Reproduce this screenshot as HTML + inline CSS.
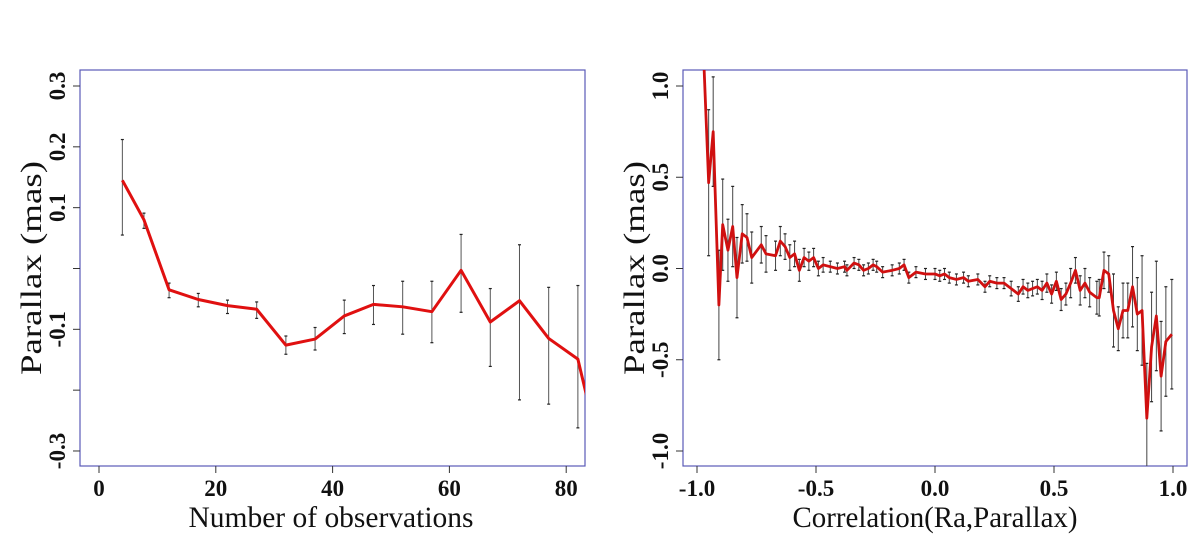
<!DOCTYPE html>
<html><head><meta charset="utf-8"><style>
html,body{margin:0;padding:0;background:#fff;}
svg{display:block;}
text{font-family:"Liberation Serif",serif;}
.tk{font-weight:bold;font-size:23px;fill:#111;}
.tt{font-size:30px;fill:#111;}
</style></head><body>
<svg id="chart" width="1200" height="549" viewBox="0 0 1200 549"></svg>
<script>
// Left panel data
const obsX = [4, 7.7, 12, 17, 22, 27, 32, 37, 42, 47, 52, 57, 62, 67, 72, 77, 82];
const obsY = [0.145, 0.08, -0.035, -0.051, -0.061, -0.067, -0.126, -0.116, -0.078, -0.059, -0.063, -0.071, -0.003, -0.088, -0.053, -0.115, -0.149];
const obsHi = [0.212, 0.091, -0.024, -0.041, -0.052, -0.055, -0.111, -0.097, -0.052, -0.028, -0.021, -0.021, 0.056, -0.033, 0.039, -0.031, -0.028];
const obsLo = [0.055, 0.066, -0.048, -0.063, -0.074, -0.082, -0.141, -0.134, -0.107, -0.092, -0.108, -0.122, -0.072, -0.161, -0.216, -0.223, -0.262];
const obsTailX = 84, obsTailY = -0.23;
const leftXTicks = [0, 20, 40, 60, 80];
const leftYTicks = [0.3, 0.2, 0.1, 0, -0.1, -0.2, -0.3];
const leftYLabels = ["0.3", "0.2", "0.1", "", "-0.1", "", "-0.3"];
// Right panel data
const corX = [-0.97,-0.951,-0.932,-0.908,-0.892,-0.87,-0.85,-0.832,-0.81,-0.79,-0.77,-0.73,-0.71,-0.67,-0.65,-0.63,-0.61,-0.59,-0.57,-0.55,-0.53,-0.51,-0.49,-0.47,-0.44,-0.41,-0.38,-0.37,-0.34,-0.32,-0.30,-0.28,-0.26,-0.245,-0.22,-0.18,-0.15,-0.13,-0.11,-0.08,-0.04,0.0,0.02,0.04,0.06,0.09,0.12,0.14,0.18,0.21,0.23,0.26,0.29,0.32,0.35,0.37,0.39,0.41,0.43,0.45,0.47,0.49,0.51,0.53,0.55,0.57,0.59,0.61,0.63,0.65,0.68,0.69,0.71,0.73,0.75,0.77,0.79,0.81,0.83,0.85,0.87,0.89,0.91,0.93,0.95,0.97,0.995];
const corY = [1.09,0.47,0.75,-0.20,0.24,0.10,0.23,-0.05,0.19,0.17,0.06,0.13,0.08,0.07,0.15,0.12,0.06,0.08,-0.01,0.06,0.04,0.06,0.00,0.02,0.01,0.00,0.01,-0.01,0.03,0.02,-0.01,0.00,0.02,0.01,-0.02,-0.01,0.00,0.02,-0.05,-0.02,-0.03,-0.03,-0.04,-0.03,-0.05,-0.06,-0.05,-0.07,-0.06,-0.10,-0.07,-0.08,-0.08,-0.11,-0.14,-0.10,-0.12,-0.11,-0.10,-0.12,-0.08,-0.14,-0.07,-0.17,-0.14,-0.08,-0.01,-0.12,-0.08,-0.13,-0.16,-0.16,-0.01,-0.03,-0.23,-0.33,-0.23,-0.23,-0.10,-0.25,-0.23,-0.82,-0.43,-0.26,-0.59,-0.40,-0.36];
const corErr = [0,0.4,0.3,0.3,0.25,0.17,0.22,0.22,0.16,0.13,0.14,0.1,0.1,0.08,0.08,0.07,0.07,0.07,0.06,0.05,0.05,0.05,0.04,0.04,0.03,0.03,0.03,0.03,0.03,0.03,0.03,0.03,0.03,0.03,0.03,0.03,0.03,0.03,0.03,0.03,0.03,0.03,0.03,0.03,0.03,0.03,0.03,0.03,0.03,0.03,0.03,0.03,0.03,0.04,0.04,0.04,0.04,0.04,0.04,0.05,0.05,0.05,0.05,0.06,0.06,0.08,0.07,0.08,0.08,0.08,0.09,0.1,0.1,0.1,0.2,0.12,0.15,0.15,0.22,0.2,0.3,0.3,0.3,0.3,0.3,0.3,0.3];
const rightXTicks = [-1, -0.5, 0, 0.5, 1];
const rightXLabels = ["-1.0", "-0.5", "0.0", "0.5", "1.0"];
const rightYTicks = [1, 0.5, 0, -0.5, -1];
const rightYLabels = ["1.0", "0.5", "0.0", "-0.5", "-1.0"];

const NS = "http://www.w3.org/2000/svg";
const svg = document.getElementById("chart");
function mk(tag, attrs, parent){
  const e = document.createElementNS(NS, tag);
  for (const k in attrs) e.setAttribute(k, attrs[k]);
  (parent||svg).appendChild(e);
  return e;
}
function errBar(parent, X, y1, y2, color){
  const e = mk("line", {x1: X, x2: X, y1: y1, y2: y2, stroke: color, "stroke-width": 1}, parent);
  
  
  mk("line", {x1: X - 1.5, x2: X + 1.5, y1: y1, y2: y1, stroke: "#222", "stroke-width": 1.2}, parent);
  mk("line", {x1: X - 1.5, x2: X + 1.5, y1: y2, y2: y2, stroke: "#222", "stroke-width": 1.2}, parent);
}
function panel(cfg){
  const g = mk("g", {});
  
  
  const clipId = cfg.name + "-clip";
  const cp = mk("clipPath", {id: clipId}, g);
  mk("rect", {x: cfg.bx0, y: cfg.by0, width: cfg.bx1 - cfg.bx0, height: cfg.by1 - cfg.by0}, cp);
  const frame = mk("rect", {x: cfg.bx0, y: cfg.by0, width: cfg.bx1 - cfg.bx0, height: cfg.by1 - cfg.by0, fill: "none", stroke: "#5a5ab8", "stroke-width": 1.2}, g);
  
  
  cfg.xt.forEach((v, i) => {
    const x = cfg.sx(v);
    mk("line", {x1: x, x2: x, y1: cfg.by1, y2: cfg.by1 + 7, stroke: "#333", "stroke-width": 1}, g);
    const t = mk("text", {x: x, y: cfg.by1 + 30, "text-anchor": "middle", class: "tk"}, g);
    t.textContent = cfg.xl[i];
    
    
  });
  cfg.yt.forEach((v, i) => {
    const y = cfg.sy(v);
    mk("line", {x1: cfg.bx0, x2: cfg.bx0 - 7, y1: y, y2: y, stroke: "#333", "stroke-width": 1}, g);
    if (cfg.yl[i]) {
      const tx = cfg.bx0 - 15;
      const t = mk("text", {x: tx, y: y, "text-anchor": "middle", class: "tk", transform: `rotate(-90 ${tx} ${y})`}, g);
      t.textContent = cfg.yl[i];
      
      
    }
  });
  const xt = mk("text", {x: cfg.xtx, y: 527, "text-anchor": "middle", class: "tt", textLength: 285, lengthAdjust: "spacingAndGlyphs"}, g);
  xt.textContent = cfg.xtitle;
  
  
  const ytx = cfg.bx0 - 39, yty = 268;
  const yt = mk("text", {x: ytx, y: yty, "text-anchor": "middle", class: "tt", textLength: 214, lengthAdjust: "spacingAndGlyphs", transform: `rotate(-90 ${ytx} ${yty})`}, g);
  yt.textContent = "Parallax (mas)";
  
  
  const plot = mk("g", {"clip-path": `url(#${clipId})`}, g);
  return plot;
}

// Left
const lsx = v => 99 + v * 5.84;
const lsy = v => 86 + (0.3 - v) * 608.3;
const lp = panel({name: "left-panel", bx0: 80, bx1: 585, by0: 70, by1: 466, sx: lsx, sy: lsy,
  xt: leftXTicks, xl: leftXTicks.map(String), yt: leftYTicks, yl: leftYLabels, xtitle: "Number of observations", xtx: 331});
obsX.forEach((x, i) => {
  errBar(lp, lsx(x), lsy(obsHi[i]), lsy(obsLo[i]), "#555");
});
let lpts = obsX.map((x, i) => lsx(x) + "," + lsy(obsY[i]));
lpts.push(lsx(obsTailX) + "," + lsy(obsTailY));
const ll = mk("polyline", {points: lpts.join(" "), fill: "none", stroke: "#e01010", "stroke-width": 3, "stroke-linejoin": "round"}, lp);



// Right
const rsx = v => 935 + v * 238;
const rsy = v => 268.5 - v * 182.5;
const rp = panel({name: "right-panel", bx0: 683, bx1: 1187, by0: 70, by1: 466, sx: rsx, sy: rsy,
  xt: rightXTicks, xl: rightXLabels, yt: rightYTicks, yl: rightYLabels, xtitle: "Correlation(Ra,Parallax)", xtx: 935});
corX.forEach((x, i) => {
  if (!corErr[i]) return;
  errBar(rp, rsx(x), rsy(corY[i] + corErr[i]), rsy(corY[i] - corErr[i]), "#444");
});
const rl = mk("polyline", {points: corX.map((x, i) => rsx(x) + "," + rsy(corY[i])).join(" "), fill: "none", stroke: "#d01010", "stroke-width": 2.8, "stroke-linejoin": "round"}, rp);


</script>
</body></html>
